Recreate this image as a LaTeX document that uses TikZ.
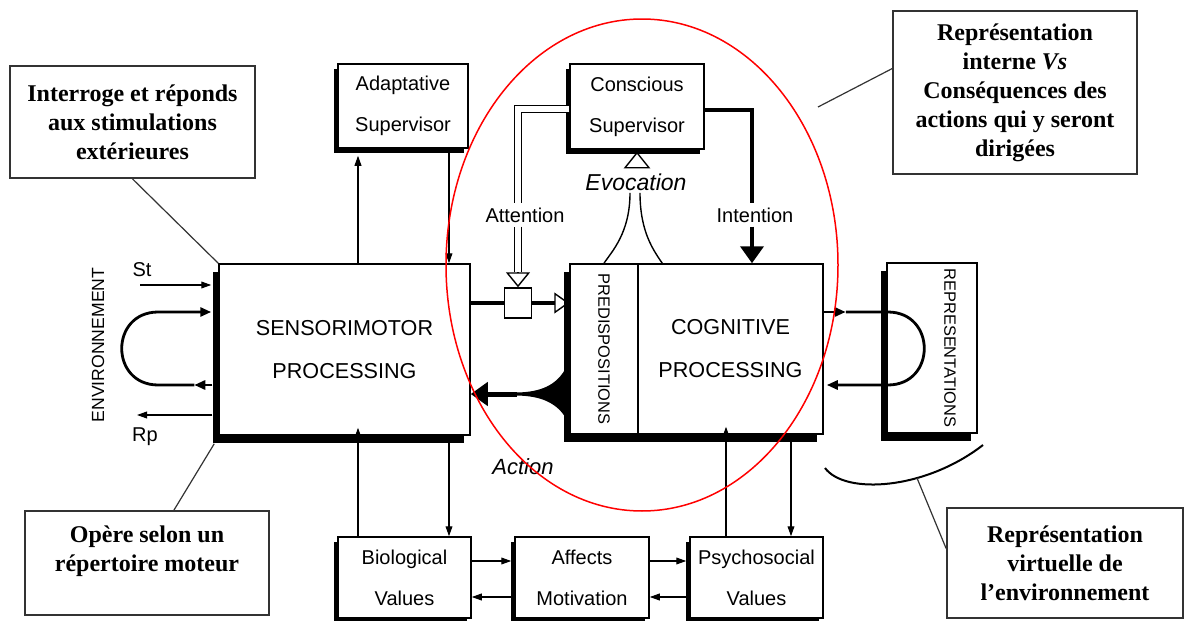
\documentclass[tikz,border=0pt]{standalone}
\usepackage{fontspec}
\setmainfont{Liberation Sans}
\newfontfamily\notefont{Liberation Serif}
\usepackage{tikz}
\usetikzlibrary{arrows.meta,shadows}
\tikzstyle{bigbox}=[draw=black,fill=white,line width=0.75pt,inner sep=0pt,align=center,font=\fontsize{10.8}{21.5}\selectfont,drop shadow={shadow xshift=-3pt,shadow yshift=-4pt,fill=black,opacity=1}]
\tikzstyle{smallbox}=[draw=black,fill=white,line width=0.75pt,inner sep=0pt,align=center,font=\fontsize{10}{20.5}\selectfont,drop shadow={shadow xshift=-2pt,shadow yshift=-2.5pt,fill=black,opacity=1}]
\tikzstyle{note}=[draw=black!80,line width=0.9pt,fill=white,inner sep=0pt,align=center,font=\notefont\bfseries\fontsize{12}{14.5}\selectfont]
\tikzstyle{tag}=[inner sep=1pt,font=\fontsize{10}{12}\selectfont]
\tikzstyle{vtag}=[inner sep=0pt,font=\fontsize{8.2}{10}\selectfont]
\tikzstyle{flow}=[line width=0.6pt,-{Triangle[length=5pt,width=3.4pt]}]
\tikzstyle{heavy}=[line width=2pt]
\tikzstyle{bighead}=[-{Triangle[length=8.5pt,width=11.5pt]}]
\tikzstyle{loopline}=[line width=1.4pt,-{Triangle[length=5.5pt,width=4.5pt]}]
\tikzstyle{dbl}=[line width=0.7pt,double=white,double distance=2.8pt]
\tikzstyle{hollow}=[line width=0.7pt,-{Triangle[open,length=7.5pt,width=12pt]}]
\tikzstyle{pointer}=[line width=0.6pt,draw=black!80]

\begin{document}
\begin{tikzpicture}[x=0.5pt,y=-0.5pt]
    \fill[white] (0,0) rectangle (1185,621);
    \useasboundingbox (0,0) rectangle (1185,621);

    \node[bigbox,minimum width=125.5pt,minimum height=85.5pt] (sens) at (344.5,349.5) {SENSORIMOTOR\\PROCESSING};
    \node[smallbox,minimum width=65pt,minimum height=42pt] (adapt) at (403,106) {Adaptative\\Supervisor};
    \node[smallbox,minimum width=67pt,minimum height=42.5pt] (consc) at (637,106.5) {Conscious\\Supervisor};
    \node[bigbox,minimum width=92.5pt,minimum height=85pt] (cog) at (730.5,349) {COGNITIVE\\PROCESSING};
    \node[bigbox,minimum width=34pt,minimum height=85pt] (pred) at (604,349) {};
    \node[vtag,rotate=-90] (predtxt) at (pred.center) {PREDISPOSITIONS};
    \node[bigbox,minimum width=45pt,minimum height=85pt] (rep) at (932,348) {};
    \node[vtag,rotate=-90] (reptxt) at ([xshift=9pt]rep.center) {REPRESENTATIONS};
    \node[smallbox,minimum width=66.5pt,minimum height=40.5pt] (bio) at (404.5,577.5) {Biological\\Values};
    \node[smallbox,minimum width=67pt,minimum height=40.5pt] (aff) at (582,577.5) {Affects\\Motivation};
    \node[smallbox,minimum width=66.5pt,minimum height=40.5pt] (psy) at (756.5,577.5) {Psychosocial\\Values};
    \node[draw,fill=white,line width=0.7pt,minimum width=13.5pt,minimum height=15pt,inner sep=0pt] (gate) at (518,303) {};

    \node[vtag,rotate=90,font=\fontsize{8.8}{10}\selectfont] (env) at (98,345) {ENVIRONNEMENT};
    \node[tag] (st) at (142,270) {St};
    \node[tag] (rp) at (145,437) {Rp};
    \node[tag,font=\itshape\fontsize{11.5}{13}\selectfont] (evo) at (636,182) {Evocation};
    \node[tag,inner sep=2pt] (att) at (525,215) {Attention};
    \node[tag,inner sep=2pt] (int) at (755,215) {Intention};
    \node[tag,font=\itshape\fontsize{11}{13}\selectfont] (act) at (523,467) {Action};

    \node[note,minimum width=122.5pt,minimum height=56pt] (ann1) at (132.5,122) {Interroge et réponds\\aux stimulations\\extérieures};
    \node[note,minimum width=122pt,minimum height=52pt] (ann2) at (147,563) {Opère selon un\\répertoire moteur\\\mbox{}};
    \node[note,minimum width=122pt,minimum height=81.5pt] (ann3) at (1015,92.5) {Représentation\\interne \textit{Vs}\\Conséquences des\\actions qui y seront\\dirigées};
    \node[note,minimum width=118pt,minimum height=55pt] (ann4) at (1065,563) {Représentation\\virtuelle de\\l’environnement};

    \coordinate (colA) at (358,0);
    \coordinate (colB) at (449,0);
    \coordinate (colC) at (726,0);
    \coordinate (colD) at (791,0);
    \coordinate (rowU) at (0,561);
    \coordinate (rowL) at (0,597);
    \coordinate (loopT) at (0,312);
    \coordinate (loopB) at (0,385);
    \coordinate (attx) at (518,109);
    \coordinate (intx) at (752,110);
    \coordinate (stin) at (140,285);
    \coordinate (rpout) at (137,415);
    \coordinate (hornT) at (567,366);
    \coordinate (hornB) at (567,420);
    \coordinate (hornL) at (517,394);
    \coordinate (ellP) at (818,107);
    \coordinate (virtA) at (825,468);
    \coordinate (virtB) at (983,445);
    \coordinate (virtP) at (917,478);

    % supervisors and values
    \draw[flow,shorten >=3.5pt] (sens.north -| colA) -- (adapt.south -| colA);
    \draw[flow] (adapt.south -| colB) -- (sens.north -| colB);
    \draw[flow,shorten >=-4pt] (bio.north -| colA) -- (sens.south -| colA);
    \draw[flow] (sens.south -| colB) -- (bio.north -| colB);
    \draw[flow,shorten >=-4pt] (psy.north -| colC) -- (cog.south -| colC);
    \draw[flow] (cog.south -| colD) -- (psy.north -| colD);
    \draw[flow,shorten >=1.5pt] (bio.east |- rowU) -- (aff.west |- rowU);
    \draw[flow] (aff.west |- rowL) -- (bio.east |- rowL);
    \draw[flow,shorten >=1.5pt] (aff.east |- rowU) -- (psy.west |- rowU);
    \draw[flow] (psy.west |- rowL) -- (aff.east |- rowL);

    % environment side
    \draw[flow] (stin) -- ([xshift=-3.5pt]sens.west |- stin);
    \draw[flow] ([xshift=-3pt]sens.west |- rpout) -- (rpout);
    \draw[loopline] ([xshift=-3pt]sens.west |- loopB) -- ++(-18,0);
    \draw[loopline] ([xshift=-12pt]sens.west |- loopB) -- ++(-36,0) .. controls +(-48.7,0) and +(-48.7,0) .. ++(0,-73) -- ([xshift=-3.5pt]sens.west |- loopT);

    % representations side
    \draw[loopline] (cog.east |- loopT) -- ++(22,0);
    \draw[loopline] ([xshift=11pt]cog.east |- loopT) -- ++(42,0) .. controls +(48.7,0) and +(48.7,0) .. ++(0,73) -- ([xshift=1.5pt]cog.east |- loopB);

    % attention, evocation, intention
    \draw[heavy] (sens.east |- gate) -- (gate.west);
    \draw[heavy,-{Triangle[open,length=7.5pt,width=10.5pt,line width=0.7pt]}] (gate.east) -- (pred.west |- gate);
    \draw[dbl] (consc.west |- attx) -| (att.north -| attx);
    \draw[dbl] (att.south -| attx) -- ([yshift=7.5pt]gate.north);
    \draw[hollow] ([yshift=7.5pt]gate.north) -- (gate.north);
    \draw[line width=0.7pt,fill=white] ([yshift=-1.5pt]consc.south) -- ++(-12,15) -- ++(24,0) -- cycle;
    \draw[line width=0.7pt] ([xshift=-3pt]evo.south) .. controls +(0,40) and +(8,-12) .. (pred.north);
    \draw[line width=0.7pt] ([xshift=2pt]evo.south) .. controls +(0,40) and +(-8,-12) .. ([xshift=12.5pt]cog.north west);
    \draw[heavy] (consc.east |- intx) -| (int.north -| intx);
    \draw[heavy,bighead] (int.south -| intx) -- (cog.north -| intx);

    % action
    \fill (hornT) .. controls (557,386) and (540,392) .. (517,392.5) -- (517,395.5) .. controls (540,396) and (557,402) .. (hornB) -- cycle;
    \draw[line width=2.5pt,bighead] (hornL) -- (sens.east |- hornL);

    % notes
    \draw[pointer] (ann1.south) -- (sens.north west);
    \draw[pointer] (ann2.63) -- ([shift={(-4,8)}]sens.south west);
    \draw[pointer] (ann3.169) -- (ellP);
    \draw[line width=1pt] (virtA) .. controls (845,495) and (925,490) .. (virtB);
    \draw[pointer] (virtP) -- (ann4.173);

    \draw[red,line width=0.75pt] (642,265) ellipse [x radius=196,y radius=246];
\end{tikzpicture}
\end{document}
